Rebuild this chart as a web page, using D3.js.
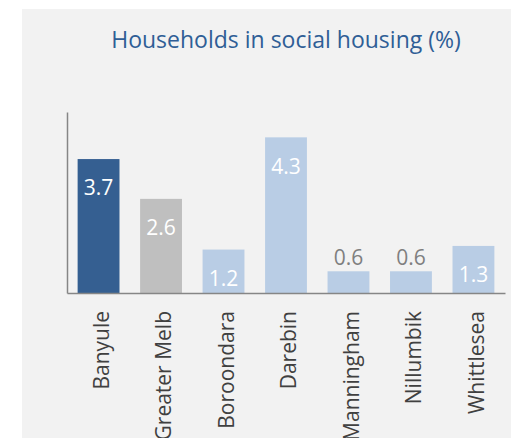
<!DOCTYPE html>
<html>
<head>
<meta charset="utf-8">
<script src="https://cdn.jsdelivr.net/npm/d3@7"></script>
<style>
    body { margin: 0; background: #fff; }
    text { font-family: "Open Sans", sans-serif; }
</style>
</head>
<body>
<svg id="chart"></svg>
<script>
var categories = ['Banyule', 'Greater Melb', 'Boroondara', 'Darebin', 'Manningham', 'Nillumbik', 'Whittlesea'];
var values = [3.7, 2.6, 1.2, 4.3, 0.6, 0.6, 1.3];
var barColors = ['#355f91', '#bfbfbf', '#b9cde5', '#b9cde5', '#b9cde5', '#b9cde5', '#b9cde5'];
var title = 'Households in social housing (%)';

var width = 511,
    height = 438,
    plotLeft = 67,
    plotRight = 505,
    plotTop = 112,
    baseline = 293;

var svg = d3.select('#chart')
    .attr('width', width)
    .attr('height', height);

// panel background
svg.append('rect')
    .attr('x', 22)
    .attr('y', 9)
    .attr('width', width - 22)
    .attr('height', height - 9)
    .attr('fill', '#f2f2f2');

svg.append('text')
    .attr('x', (plotLeft + plotRight) / 2)
    .attr('y', 48)
    .attr('text-anchor', 'middle')
    .attr('fill', '#2f5e96')
    .style('font-size', '23px')
    .text(title);

var x = d3.scaleBand()
    .domain(categories)
    .range([plotLeft, plotRight])
    .paddingInner(0.33)
    .paddingOuter(0.17);

var y = d3.scaleLinear()
    .domain([0, 5])
    .range([baseline, plotTop]);

var data = categories.map(function(c, i) {
    return { name: c, value: values[i], color: barColors[i] };
});

svg.append('g')
    .selectAll('rect')
    .data(data)
    .enter()
    .append('rect')
    .attr('x', function(d) { return x(d.name); })
    .attr('y', function(d) { return y(d.value); })
    .attr('width', x.bandwidth())
    .attr('height', function(d) { return y(0) - y(d.value); })
    .attr('fill', function(d) { return d.color; });

// value labels, inside end unless the bar is too short
svg.append('g')
    .selectAll('text')
    .data(data)
    .enter()
    .append('text')
    .attr('x', function(d) { return x(d.name) + x.bandwidth() / 2; })
    .attr('y', function(d) {
        var h = y(0) - y(d.value);
        if (h < 30) return y(d.value) - 14;
        return Math.min(y(d.value) + 29, baseline - 13);
    })
    .attr('dy', '0.35em')
    .attr('text-anchor', 'middle')
    .attr('fill', function(d) { return (y(0) - y(d.value)) < 30 ? '#7f7f7f' : '#fff'; })
    .style('font-size', '21px')
    .text(function(d) { return d3.format('.1f')(d.value); });

// axes lines
var axisColor = '#868686';
svg.append('g')
    .attr('transform', 'translate(' + plotLeft + ',0)')
    .call(d3.axisLeft(y).tickValues([]).tickSizeOuter(0))
    .call(function(g) { g.select('.domain').attr('stroke', axisColor).attr('stroke-width', 1.5); });

var xAxis = svg.append('g')
    .attr('transform', 'translate(0,' + baseline + ')')
    .call(d3.axisBottom(x).tickSize(0).tickSizeOuter(0));

xAxis.select('.domain').attr('stroke', axisColor).attr('stroke-width', 1.5);
xAxis.selectAll('text')
    .attr('transform', 'rotate(-90)')
    .attr('text-anchor', 'end')
    .attr('x', -18)
    .attr('y', 3)
    .attr('dy', '0.35em')
    .attr('dx', 0)
    .attr('fill', '#404040')
    .style('font-family', '"Open Sans", sans-serif')
    .style('font-size', '21px');
</script>
</body>
</html>
